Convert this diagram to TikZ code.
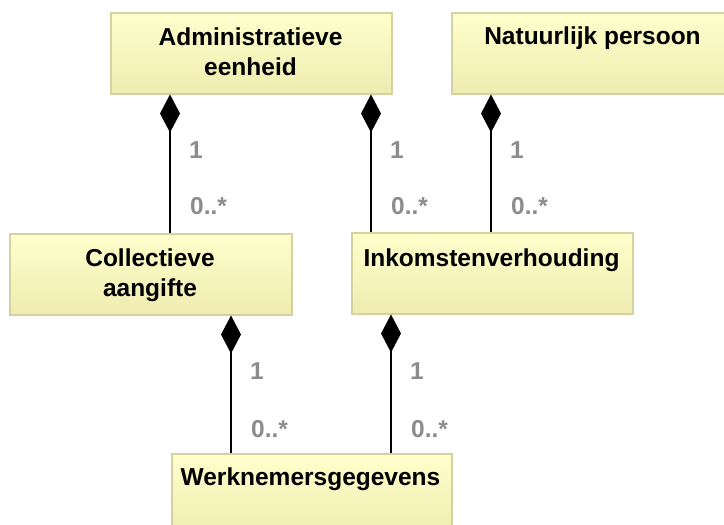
\documentclass[tikz,border=0pt]{standalone}
\usepackage{fontspec}
\setmainfont{Liberation Sans}
\usetikzlibrary{arrows.meta}
\definecolor{boxtop}{HTML}{FFFFCC}
\definecolor{boxbot}{HTML}{EEECB0}
\definecolor{boxline}{HTML}{D4D2A0}
\definecolor{multc}{HTML}{8C8C8C}
\begin{document}
\begin{tikzpicture}[x=1pt,y=-1pt,
  cls/.style={draw=boxline,line width=1.5pt,top color=boxtop,bottom color=boxbot,
    minimum width=#1,minimum height=81pt,inner sep=0pt,anchor=north west},
  title/.style={font=\fontsize{24.5}{30}\selectfont\bfseries,align=center,anchor=base,inner sep=0pt},
  mult/.style={text=multc,font=\fontsize{24.5}{30}\selectfont\bfseries,anchor=base west,inner sep=0pt},
  comp/.style={line width=2pt,{Diamond[length=38pt,width=20pt]}-}]
\useasboundingbox (0,0) rectangle (724,525);
\clip (0,0) rectangle (724,525);
% classes
\node[cls=281pt] (adm) at (110,12) {};
\node[cls=282pt] (nat) at (451,12) {};
\node[cls=282pt] (col) at (9,233) {};
\node[cls=281pt] (ink) at (351,232) {};
\node[cls=280pt] (wrk) at (171,453) {};
% titles (base anchor = last line)
\node[title] (admT) at (250.5,75) {Administratieve\\eenheid};
\node[title] (natT) at (592.5,44) {Natuurlijk persoon};
\node[title] (colT) at (150,296) {Collectieve\\aangifte};
\node[title] (inkT) at (491.5,266) {Inkomstenverhouding};
\node[title] (wrkT) at (310.5,485) {Werknemersgegevens};
% compositions
\draw[comp] (adm.south -| 170,0) -- (col.north -| 170,0);
\draw[comp] (adm.south -| 371,0) -- (ink.north -| 371,0);
\draw[comp] (nat.south -| 491,0) -- (ink.north -| 491,0);
\draw[comp] (col.south -| 231,0) -- (wrk.north -| 231,0);
\draw[comp] (ink.south -| 391,0) -- (wrk.north -| 391,0);
% multiplicities
\node[mult] (m1a) at (189,158) {1};
\node[mult] (m1b) at (190,214) {0..*};
\node[mult] (m2a) at (390,158) {1};
\node[mult] (m2b) at (391,214) {0..*};
\node[mult] (m3a) at (510,158) {1};
\node[mult] (m3b) at (511,214) {0..*};
\node[mult] (m4a) at (250,379) {1};
\node[mult] (m4b) at (251,437) {0..*};
\node[mult] (m5a) at (410,379) {1};
\node[mult] (m5b) at (411,437) {0..*};
\end{tikzpicture}
\end{document}
